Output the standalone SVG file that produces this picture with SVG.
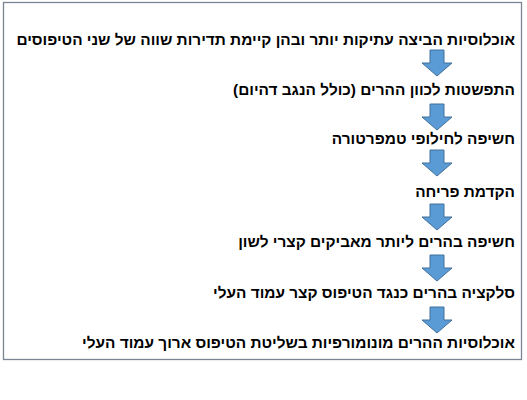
<svg xmlns="http://www.w3.org/2000/svg" width="527" height="400" viewBox="0 0 527 400">
<style>
.lbl{font-family:"Liberation Sans",Arial,sans-serif;font-weight:bold;font-size:15.4px;fill:#000;direction:rtl;}
.arr{fill:#5B9BD5;stroke:#41719C;stroke-width:1;}
</style>
<defs>
<path id="a" d="M430,0 H444 V13 H452 L437,26 L422,13 H430 Z"/>
</defs>
<rect x="0" y="0" width="527" height="400" fill="#fff"/>
<rect x="3.5" y="2.5" width="518" height="357" fill="#fff" stroke="#7A8594" stroke-width="1.3"/>
<g id="n1"><text class="lbl" x="515" y="45" direction="rtl" text-anchor="start">אוכלוסיות הביצה עתיקות יותר ובהן קיימת תדירות שווה של שני הטיפוסים</text></g>
<g id="n2"><text class="lbl" x="515" y="95" direction="rtl" text-anchor="start">התפשטות לכוון ההרים (כולל הנגב דהיום)</text></g>
<g id="n3"><text class="lbl" x="515" y="144" direction="rtl" text-anchor="start">חשיפה לחילופי טמפרטורה</text></g>
<g id="n4"><text class="lbl" x="515" y="197" direction="rtl" text-anchor="start">הקדמת פריחה</text></g>
<g id="n5"><text class="lbl" x="515" y="247" direction="rtl" text-anchor="start">חשיפה בהרים ליותר מאביקים קצרי לשון</text></g>
<g id="n6"><text class="lbl" x="515" y="298" direction="rtl" text-anchor="start">סלקציה בהרים כנגד הטיפוס קצר עמוד העלי</text></g>
<g id="n7"><text class="lbl" x="515" y="348" direction="rtl" text-anchor="start">אוכלוסיות ההרים מונומורפיות בשליטת הטיפוס ארוך עמוד העלי</text></g>
<g id="connectors">
<use href="#a" class="arr" y="50"/>
<use href="#a" class="arr" y="104"/>
<use href="#a" class="arr" y="150"/>
<use href="#a" class="arr" y="204"/>
<use href="#a" class="arr" y="255"/>
<use href="#a" class="arr" y="307"/>
</g>
</svg>
